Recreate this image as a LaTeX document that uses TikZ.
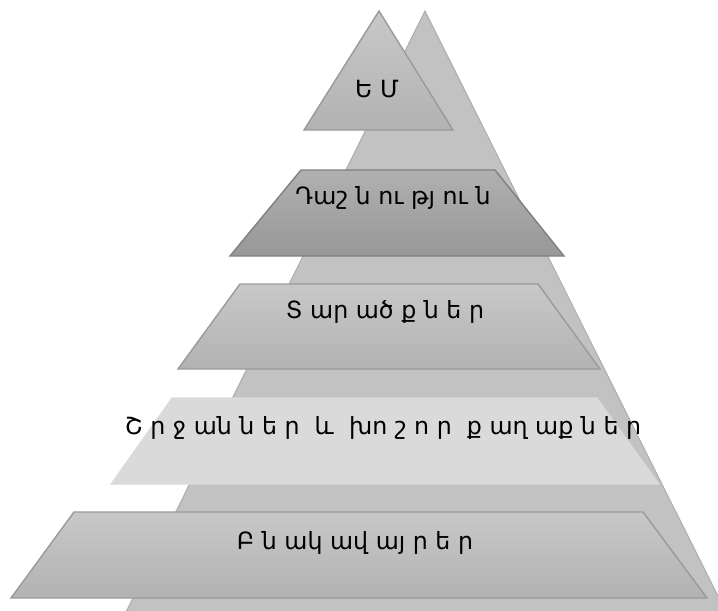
\documentclass[tikz,border=0pt]{standalone}
\usepackage{fontspec}
\setmainfont{DejaVu Sans}
\definecolor{backgray}{HTML}{C2C2C2}
\definecolor{edgegray}{HTML}{9A9A9A}
\definecolor{midtop}{HTML}{C8C8C8}
\definecolor{midbot}{HTML}{B2B2B2}
\definecolor{darktop}{HTML}{B0B0B0}
\definecolor{darkbot}{HTML}{989898}
\definecolor{lightgray}{HTML}{DADADA}
\begin{document}
\begin{tikzpicture}[x=0.02cm,y=-0.02cm,
  level/.style 2 args={draw=edgegray,line width=0.8pt,top color=#1,bottom color=#2},
  label/.style={font=\fontsize{13.5}{16}\selectfont,text=black,inner sep=0pt}]
  \useasboundingbox (0,0) rectangle (718,610);
  % back pyramid
  \coordinate (T) at (425,11);
  \coordinate (L) at (126,612);
  \coordinate (R) at (726,612);
  \fill[backgray] (T) -- (R) -- (L) -- cycle;
  \draw[edgegray!80!white,line width=0.6pt] (L) -- (T) -- (R);
  % top triangle
  \draw[level={midtop}{midbot}] (379,11) -- (453,130) -- (304,130) -- cycle;
  \node[label] (eu) at (377,89) {Ե Մ};
  % level 2
  \draw[level={darktop}{darkbot},draw=gray] (301,170) -- (495,170) -- (564,256) -- (230,256) -- cycle;
  \node[label] (union) at (393,198) {Դաշ ն ու թյ ու ն};
  % level 3
  \draw[level={midtop}{midbot}] (240,284) -- (538,284) -- (600,369) -- (178,369) -- cycle;
  \node[label] (regions) at (385,312) {Տ ար ած ք ն ե ր};
  % level 4
  \draw[draw=lightgray,fill=lightgray,line width=0.6pt] (172,398) -- (597,398) -- (659,484) -- (111,484) -- cycle;
  \node[label] (cities) at (383,428) {Շ ր ջ ան ն ե ր \ և \ խո շ ո ր \ ք աղ աք ն ե ր};
  % level 5
  \draw[level={midtop}{midbot}] (74,512) -- (643,512) -- (707,598) -- (11,598) -- cycle;
  \node[label] (villages) at (355,543) {Բ ն ակ ավ այ ր ե ր};
\end{tikzpicture}
\end{document}
